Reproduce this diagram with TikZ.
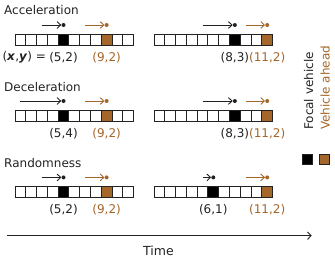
\documentclass[tikz,border=0pt]{standalone}
\usepackage{fontspec}
\setmainfont{DejaVu Sans}
\usetikzlibrary{arrows.meta}
\definecolor{brn}{HTML}{A4662B}
\definecolor{ink}{HTML}{222222}
\newcommand\lane[9]{%
  \foreach \i in {0,...,10}{%
    \ifnum\i=#4 \def\cellfill{black}\else\ifnum\i=#5 \def\cellfill{brn}\else\def\cellfill{white}\fi\fi
    \node[cell,fill=\cellfill] (#1-\i) at ({#2+5.39+\i*10.78},#3) {};
  }%
  \node[dotb] (#1-db) at ({#2+5.39+#4*10.78},{#3-15}) {};
  \node[dotr] (#1-dr) at ({#2+5.39+#5*10.78},{#3-15}) {};
  \coordinate (#1-sb) at ({#2+5.39+(#4-#6)*10.78},{#3-15});
  \coordinate (#1-sr) at ({#2+5.39+(#5-#7)*10.78},{#3-15});
  \draw[vel,ink] (#1-sb) -- (#1-db.west);
  \draw[vel,brn] (#1-sr) -- (#1-dr.west);
  \node[lab,text=ink] (#1-lb) at ({#2+5.39+#4*10.78},{#3+17.5}) {#8};
  \node[lab,text=brn] (#1-lr) at ({#2+5.39+#5*10.78},{#3+17.5}) {#9};
}
\begin{document}
\begin{tikzpicture}[x=1pt,y=-1pt,font=\fontsize{12}{14}\selectfont,
  cell/.style={draw=ink,line width=0.9pt,minimum width=10.78pt,minimum height=11pt,inner sep=0pt,outer sep=0pt},
  dotb/.style={circle,fill=ink,inner sep=0pt,minimum size=4pt},
  dotr/.style={circle,fill=brn,inner sep=0pt,minimum size=4pt},
  vel/.style={line width=0.9pt,-{Straight Barb[length=3.6pt,width=6.8pt]}},
  lab/.style={inner sep=0pt},
  title/.style={anchor=base west,inner sep=0pt,text=ink},
  leg/.style={rotate=90,anchor=base west,inner sep=0pt}]
\useasboundingbox (0,0) rectangle (335,258);
% titles
\node[title] (t1) at (4,14.5) {Acceleration};
\node[title] (t2) at (4,91.5) {Deceleration};
\node[title] (t3) at (4,167) {Randomness};
% lanes
\lane{r1l}{15}{40}{4}{8}{2}{2}{(5,2)}{(9,2)}
\lane{r1r}{154}{40}{7}{10}{3}{2}{(8,3)}{(11,2)}
\lane{r2l}{15}{116}{4}{8}{4}{2}{(5,4)}{(9,2)}
\lane{r2r}{154}{116}{7}{10}{3}{2}{(8,3)}{(11,2)}
\lane{r3l}{15}{192.4}{4}{8}{2}{2}{(5,2)}{(9,2)}
\lane{r3r}{154}{192.4}{5}{10}{1}{2}{(6,1)}{(11,2)}
\node[anchor=east,inner sep=0pt,text=ink] (xy) at ([xshift=-3pt]r1l-lb.west) {(\textbf{\textit{x}},\textbf{\textit{y}}) =};
% legend
\node[leg,text=ink] (lf) at (313,130) {Focal vehicle};
\node[leg,text=brn] (la) at (329.5,130) {Vehicle ahead};
\node[draw=ink,fill=black,line width=0.6pt,minimum size=10pt,inner sep=0pt] (sqb) at (307,159) {};
\node[draw=ink,fill=brn,line width=0.6pt,minimum size=10pt,inner sep=0pt] (sqr) at (324,159) {};
% time axis
\coordinate (ta) at (7,235.7);
\coordinate (tb) at (311.7,235.7);
\draw[ink,line width=0.9pt,-{Straight Barb[length=3.6pt,width=7.5pt]}] (ta) -- (tb);
\node[anchor=base,inner sep=0pt,text=ink,font=\fontsize{12.5}{15}\selectfont] (time) at (158.4,255.5) {Time};
\end{tikzpicture}
\end{document}
